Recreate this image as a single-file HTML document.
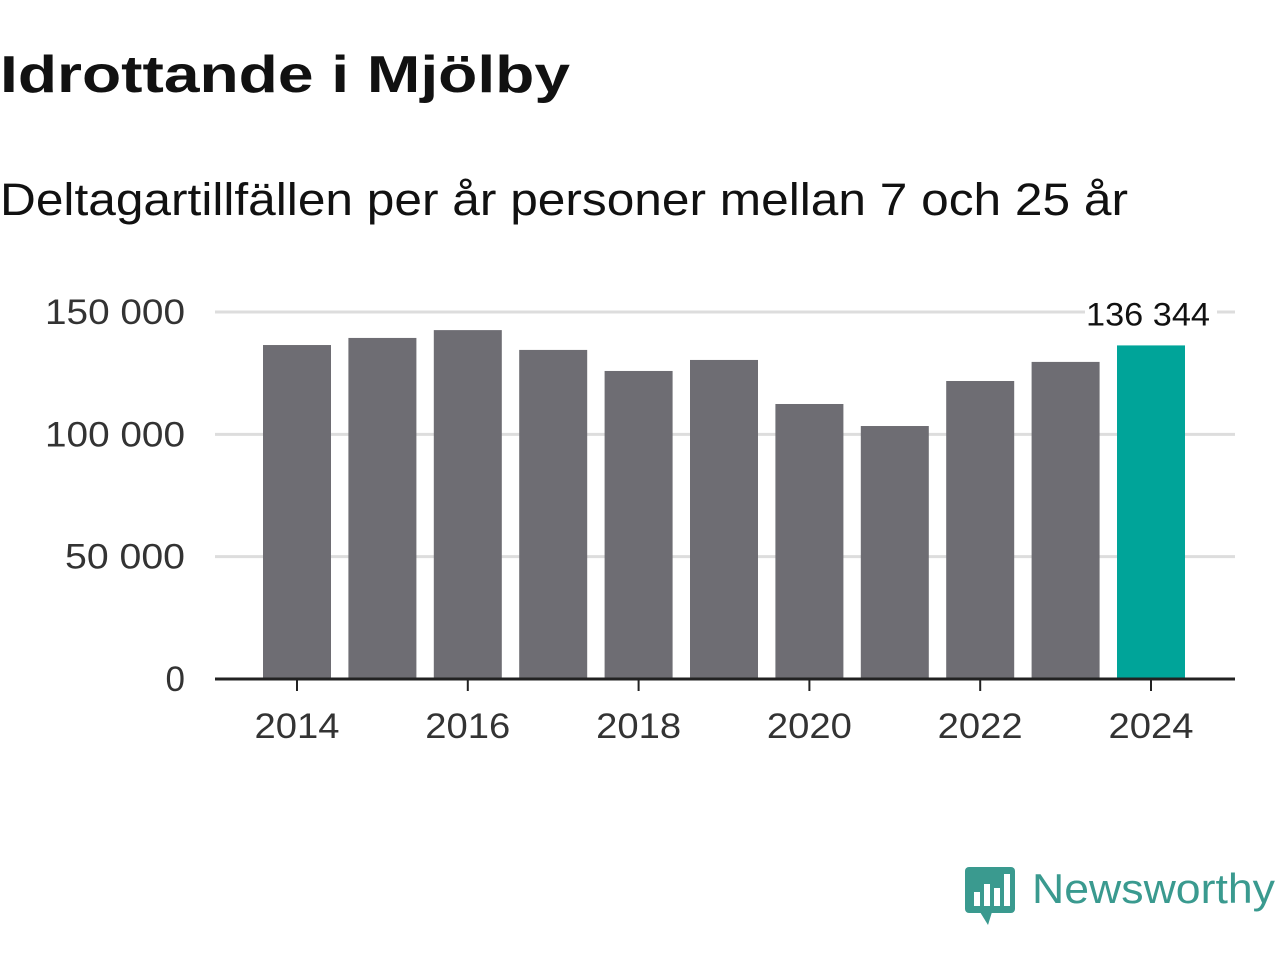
<!DOCTYPE html>
<html><head><meta charset="utf-8"><style>
body{margin:0;width:1280px;height:960px;background:#fff;font-family:"Liberation Sans",sans-serif;overflow:hidden}
</style></head><body>
<svg width="1280" height="960">
<text x="0" y="92" font-size="52" font-weight="bold" fill="#111" textLength="570" lengthAdjust="spacingAndGlyphs">Idrottande i Mjölby</text>
<text x="0" y="215" font-size="45" fill="#111" textLength="1128" lengthAdjust="spacingAndGlyphs">Deltagartillfällen per år personer mellan 7 och 25 år</text>
<g id="grid"></g><g id="bars"></g><g id="axes"></g>
<g>
<rect x="965" y="867" width="50" height="46" rx="4" fill="#3a9a8f"/>
<polygon points="980,912 992,912 988,925" fill="#3a9a8f"/>
<rect x="974" y="892" width="6" height="14" fill="#fff"/><rect x="984" y="884" width="6" height="22" fill="#fff"/><rect x="994" y="888" width="6" height="18" fill="#fff"/><rect x="1004" y="874" width="6" height="32" fill="#fff"/>
<text x="1032" y="903" font-size="42" fill="#3a9a8f" textLength="243" lengthAdjust="spacingAndGlyphs">Newsworthy</text>
</g>
</svg>
<script>
const years=[2014,2015,2016,2017,2018,2019,2020,2021,2022,2023,2024];
const values=[136500,139400,142600,134500,125900,130400,112400,103400,121800,129600,136344];
const yTicks=[0,50000,100000,150000];
const yTickLabels=["0","50 000","100 000","150 000"];
const xTicks=[2014,2016,2018,2020,2022,2024];
const NS="http://www.w3.org/2000/svg";
const y0=679,pxPer=367/150000,x0=297,step=85.4,bw=68;
const ys=v=>y0-v*pxPer, xs=yr=>x0+(yr-2014)*step;
function mk(t,a,p,txt){const e=document.createElementNS(NS,t);for(const k in a)e.setAttribute(k,a[k]);if(txt!=null)e.textContent=txt;p.appendChild(e);return e;}
const grid=document.getElementById('grid'),bars=document.getElementById('bars'),axes=document.getElementById('axes');
yTicks.forEach((v,i)=>{
 if(v>0){const l=mk('line',{x1:215,x2:1235,y1:ys(v),y2:ys(v),stroke:'#dddddd','stroke-width':3},grid);
 
 }
 const s=yTickLabels[i];
 const t=mk('text',{x:185,y:ys(v)+12,'font-size':35,fill:'#333','text-anchor':'end'},axes,s);
 if(s.length>1){t.setAttribute('textLength',s.length*20);t.setAttribute('lengthAdjust','spacingAndGlyphs');}
 
 
});
years.forEach((yr,i)=>{
 const last=i===years.length-1;
 const r=mk('rect',{x:xs(yr)-bw/2,y:ys(values[i]),width:bw,height:y0-ys(values[i]),fill:last?'#00a499':'#6e6d73'},bars);
 
 
 if(last){
  const bg=mk('rect',{x:xs(yr)-66,y:ys(values[i])-48,width:132,height:38,fill:'#fff'},bars);
  
  
  const t=mk('text',{x:xs(yr)-3,y:ys(values[i])-20,'font-size':32,fill:'#111','text-anchor':'middle',textLength:124,lengthAdjust:'spacingAndGlyphs'},bars,values[i].toString().replace(/\B(?=(\d{3})+(?!\d))/g,' '));
  
  
 }
});
const ax=mk('line',{x1:215,x2:1235,y1:y0,y2:y0,stroke:'#222','stroke-width':3},axes);


xTicks.forEach(yr=>{
 const tk=mk('line',{x1:xs(yr),x2:xs(yr),y1:y0,y2:y0+12,stroke:'#222','stroke-width':2},axes);
 
 
 const t=mk('text',{x:xs(yr),y:738,'font-size':35,fill:'#333','text-anchor':'middle',textLength:85,lengthAdjust:'spacingAndGlyphs'},axes,String(yr));
 
 
});
</script>
</body></html>
